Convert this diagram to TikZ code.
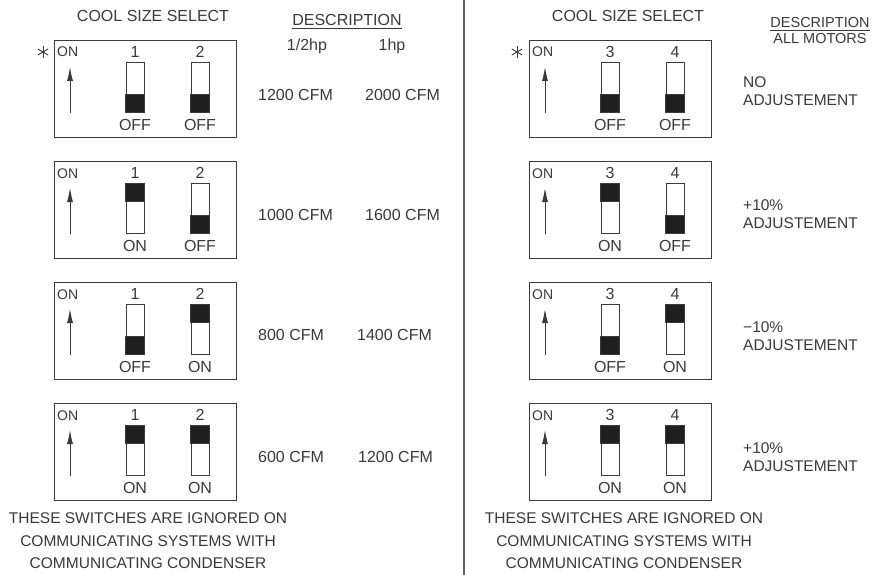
\documentclass[tikz,border=0pt]{standalone}
\usepackage{fontspec}
\setmainfont{Liberation Sans}
\usetikzlibrary{arrows.meta}
\definecolor{ink}{HTML}{3A3A3A}
\tikzset{
  txt/.style={inner sep=0pt, text height=11.5pt, text depth=0pt, text=ink, font=\fontsize{16}{19}\selectfont},
  smalltxt/.style={inner sep=0pt, text height=10pt, text depth=0pt, text=ink, font=\fontsize{14}{16}\selectfont},
  hdtxt/.style={inner sep=0pt, text height=10pt, text depth=0pt, text=ink, font=\fontsize{14.5}{17}\selectfont},
  para/.style={inner sep=0pt, text=ink, font=\fontsize{15.5}{22.5}\selectfont, align=center},
  desc/.style={inner sep=0pt, text=ink, font=\fontsize{15.5}{18}\selectfont, align=left},
  frame/.style={draw=ink, line width=0.9pt},
  swbody/.style={draw=ink, line width=0.9pt, fill=white},
  knob/.style={draw=ink, fill=black!88, line width=0.9pt},
  onarrow/.style={draw=ink, line width=0.9pt, -{Latex[length=14pt,width=6pt]}},
  star/.style={draw=ink, line width=0.9pt},
  divider/.style={draw=ink!80, line width=1.1pt},
}
% #1 x, #2 y, #3 name, #4 num1, #5 num2, #6 state1 (1=ON), #7 state2
\newcommand\dipbox[7]{%
  \node[frame, minimum width=182pt, minimum height=97pt, anchor=north west, inner sep=0pt] (#3) at (#1,#2) {};
  \node[smalltxt, anchor=west] (#3on) at ({#1+3},{#2+12}) {ON};
  \coordinate (#3a0) at ({#1+16},{#2+73});
  \coordinate (#3a1) at ({#1+16},{#2+27});
  \draw[onarrow] (#3a0) -- (#3a1);
  \node[txt] (#3n1) at ({#1+81},{#2+12}) {#4};
  \node[txt] (#3n2) at ({#1+146},{#2+12}) {#5};
  \node[swbody, minimum width=18pt, minimum height=50pt, inner sep=0pt, anchor=north] (#3s1) at ({#1+81},{#2+22}) {};
  \node[swbody, minimum width=18pt, minimum height=50pt, inner sep=0pt, anchor=north] (#3s2) at ({#1+146},{#2+22}) {};
  \ifnum#6=1
    \fill[knob] (#3s1.north west) rectangle ([yshift=-18pt]#3s1.north east);
    \node[txt] (#3l1) at ({#1+81},{#2+85}) {ON};
  \else
    \fill[knob] (#3s1.south west) rectangle ([yshift=18pt]#3s1.south east);
    \node[txt] (#3l1) at ({#1+81},{#2+85}) {OFF};
  \fi
  \ifnum#7=1
    \fill[knob] (#3s2.north west) rectangle ([yshift=-18pt]#3s2.north east);
    \node[txt] (#3l2) at ({#1+146},{#2+85}) {ON};
  \else
    \fill[knob] (#3s2.south west) rectangle ([yshift=18pt]#3s2.south east);
    \node[txt] (#3l2) at ({#1+146},{#2+85}) {OFF};
  \fi
}
\newcommand\asterisk[2]{%
  \draw[star] ({#1},{#2-6}) -- ({#1},{#2+6});
  \draw[star] ({#1-5.2},{#2-3}) -- ({#1+5.2},{#2+3});
  \draw[star] ({#1-5.2},{#2+3}) -- ({#1+5.2},{#2-3});
}
\begin{document}
\begin{tikzpicture}[x=1pt,y=-1pt]
\useasboundingbox (0,0) rectangle (875,575);
\fill[white] (0,0) rectangle (875,575);

% divider
\coordinate (dtop) at (464,0);
\coordinate (dbot) at (464,575);
\draw[divider] (dtop) -- (dbot);

% ---------- left panel ----------
\node[txt] (titleL) at (153,16) {COOL SIZE SELECT};
\node[txt] (descL) at (347,20) {DESCRIPTION};
\draw[ink, line width=0.8pt] ([yshift=-2.5pt]descL.south west) -- ([yshift=-2.5pt]descL.south east);
\node[txt] (hpA) at (307,45) {1/2hp};
\node[txt] (hpB) at (392,45) {1hp};

\dipbox{54}{40}{L1}{1}{2}{0}{0}
\dipbox{54}{161}{L2}{1}{2}{1}{0}
\dipbox{54}{282}{L3}{1}{2}{0}{1}
\dipbox{54}{403}{L4}{1}{2}{1}{1}
\asterisk{43}{52}

\node[txt, anchor=west] (c1a) at (258,95) {1200 CFM};
\node[txt, anchor=west] (c1b) at (365,95) {2000 CFM};
\node[txt, anchor=west] (c2a) at (258,215) {1000 CFM};
\node[txt, anchor=west] (c2b) at (365,215) {1600 CFM};
\node[txt, anchor=west] (c3a) at (258,335) {800 CFM};
\node[txt, anchor=west] (c3b) at (357,335) {1400 CFM};
\node[txt, anchor=west] (c4a) at (258,457) {600 CFM};
\node[txt, anchor=west] (c4b) at (358,457) {1200 CFM};

\node[para, anchor=north] (noteL) at (148,512.5) {THESE SWITCHES ARE IGNORED ON\\COMMUNICATING SYSTEMS WITH\\COMMUNICATING CONDENSER};

% ---------- right panel ----------
\node[txt] (titleR) at (628,16) {COOL SIZE SELECT};
\node[hdtxt] (descR) at (820,22.5) {DESCRIPTION};
\draw[ink, line width=0.8pt] ([yshift=-2.5pt]descR.south west) -- ([yshift=-2.5pt]descR.south east);
\node[hdtxt] (allm) at (820,39) {ALL MOTORS};

\dipbox{529}{40}{R1}{3}{4}{0}{0}
\dipbox{529}{161}{R2}{3}{4}{1}{0}
\dipbox{529}{282}{R3}{3}{4}{0}{1}
\dipbox{529}{403}{R4}{3}{4}{1}{1}
\asterisk{517}{52}

\node[desc, anchor=north west] (d1) at (743,76.5) {NO\\ADJUSTEMENT};
\node[desc, anchor=north west] (d2) at (743,199.5) {+10\%\\ADJUSTEMENT};
\node[desc, anchor=north west] (d3) at (743,321.5) {−10\%\\ADJUSTEMENT};
\node[desc, anchor=north west] (d4) at (743,442.5) {+10\%\\ADJUSTEMENT};

\node[para, anchor=north] (noteR) at (624,512.5) {THESE SWITCHES ARE IGNORED ON\\COMMUNICATING SYSTEMS WITH\\COMMUNICATING CONDENSER};
\end{tikzpicture}
\end{document}
